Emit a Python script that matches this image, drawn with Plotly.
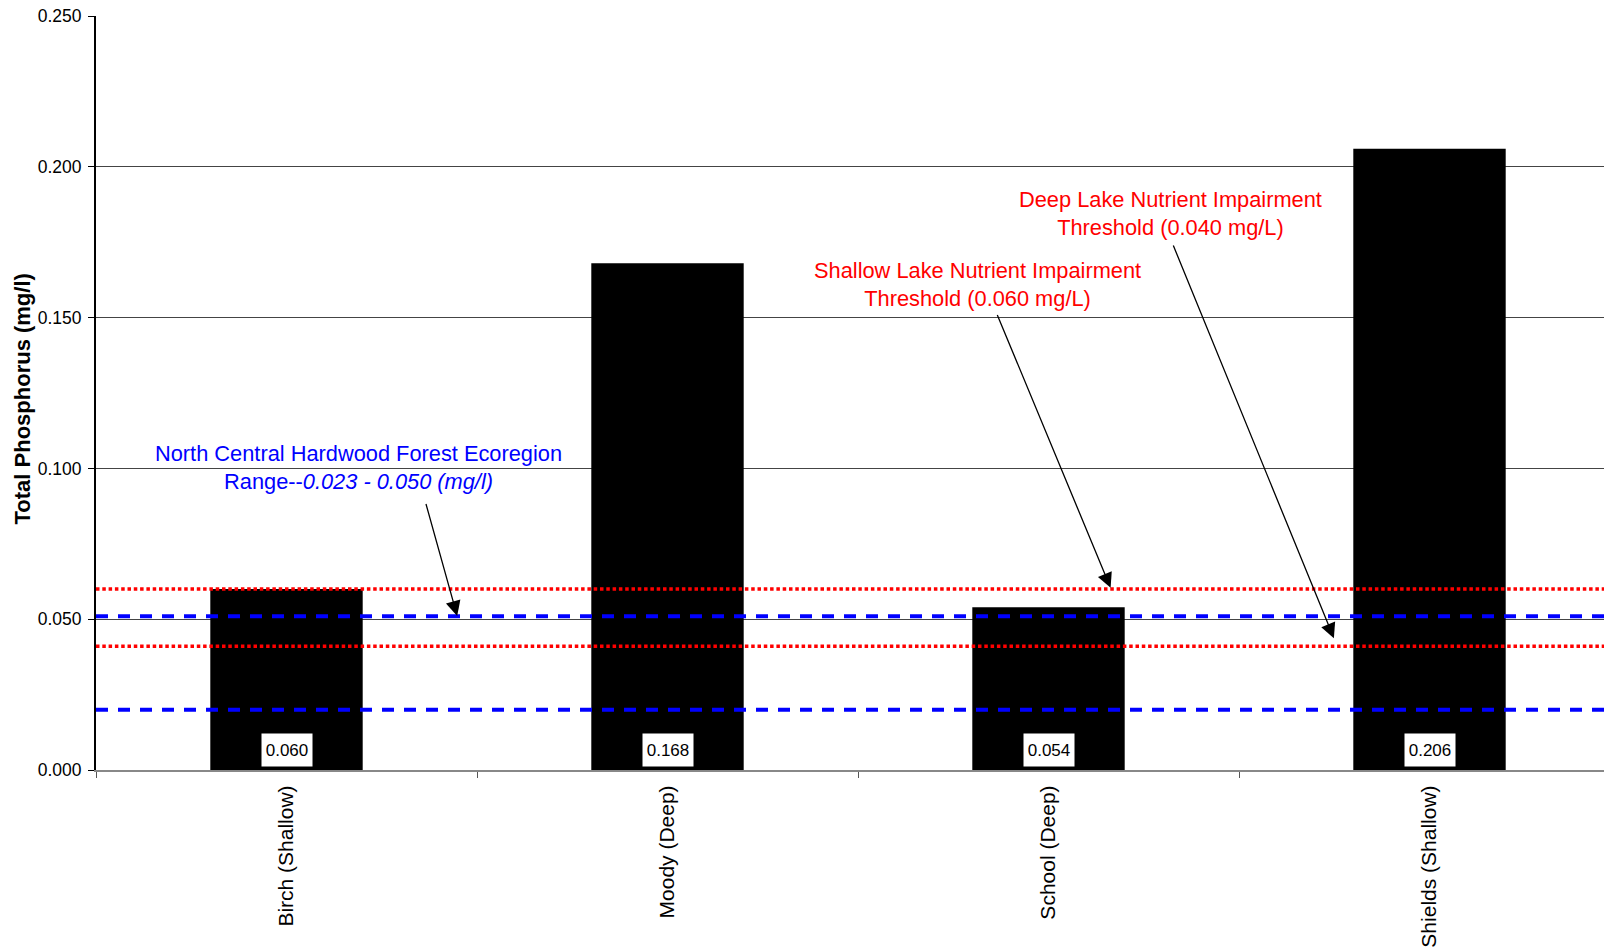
import plotly.graph_objects as go

# ---- data ----
lakes = ["Birch (Shallow)", "Moody (Deep)", "School (Deep)", "Shields (Shallow)"]
total_p = [0.060, 0.168, 0.054, 0.206]

eco_range = [0.020, 0.051]          # blue dashed lines (as drawn)
thresholds = [0.060, 0.041]          # red dotted lines (shallow, deep as drawn)

y_ticks = [0.0, 0.05, 0.10, 0.15, 0.20, 0.25]

FONT = "Arial, 'Liberation Sans', sans-serif"

fig = go.Figure()
fig.add_trace(go.Bar(
    x=lakes, y=total_p,
    marker=dict(color="black", line=dict(width=0)),
    width=0.4, showlegend=False, hoverinfo="x+y",
))

shapes = []
for v in eco_range:
    shapes.append(dict(type="line", xref="paper", x0=0, x1=1, yref="y", y0=v, y1=v,
                       line=dict(color="#0000FF", width=4, dash="12px,10px")))
for v in thresholds:
    shapes.append(dict(type="line", xref="paper", x0=0, x1=1, yref="y", y0=v, y1=v,
                       line=dict(color="#FF0000", width=3.5, dash="3.5px,2.8px")))

annotations = []
# value labels at bar bottoms
for i, v in enumerate(total_p):
    annotations.append(dict(
        x=i, y=0, xref="x", yref="y", text=f"{v:.3f}", showarrow=False,
        yanchor="bottom", yshift=3, bgcolor="white", width=48, height=30,
        font=dict(family=FONT, size=17, color="black"),
    ))

# y-axis title
annotations.append(dict(
    x=0, y=0.5, xref="paper", yref="paper", xanchor="center", yanchor="middle",
    xshift=-74.5, yshift=-6, textangle=-90, showarrow=False,
    text="<b>Total Phosphorus (mg/l)</b>", font=dict(family=FONT, size=22, color="black"),
))

# text annotations
annotations.append(dict(
    x=0.19, y=0.1003, xref="x", yref="y", showarrow=False,
    text="North Central Hardwood Forest Ecoregion<br>Range--<i>0.023 - 0.050 (mg/l)</i>",
    font=dict(family=FONT, size=21.8, color="#0000FF"), align="center",
))
annotations.append(dict(
    x=1.8136, y=0.1611, xref="x", yref="y", showarrow=False,
    text="Shallow Lake Nutrient Impairment<br>Threshold (0.060 mg/L)",
    font=dict(family=FONT, size=21.8, color="#FF0000"), align="center",
))
annotations.append(dict(
    x=2.3215, y=0.1846, xref="x", yref="y", showarrow=False,
    text="Deep Lake Nutrient Impairment<br>Threshold (0.040 mg/L)",
    font=dict(family=FONT, size=21.8, color="#FF0000"), align="center",
))

# arrows (head x,y ; tail ax,ay in data coords)
arrows = [
    (0.448, 0.0511, 0.365, 0.0887),
    (2.163, 0.0604, 1.864, 0.1514),
    (2.749, 0.0437, 2.326, 0.1744),
]
for x, y, ax, ay in arrows:
    annotations.append(dict(
        x=x, y=y, ax=ax, ay=ay, xref="x", yref="y", axref="x", ayref="y",
        text="", showarrow=True, arrowhead=2, arrowsize=2.3, arrowwidth=1.3,
        arrowcolor="black",
    ))

fig.update_layout(
    width=1604, height=948,
    margin=dict(l=96, r=0, t=16, b=178, pad=0),
    paper_bgcolor="white", plot_bgcolor="white",
    shapes=shapes, annotations=annotations,
    bargap=0.6,
    font=dict(family=FONT, color="black"),
)
fig.update_xaxes(
    type="category", range=[-0.5, 3.458],
    tickangle=-90, tickfont=dict(family=FONT, size=21, color="black"),
    showline=True, linecolor="#888888", linewidth=2,
    ticks="outside", tickson="boundaries", ticklen=6, tickcolor="#555555", tickwidth=1,
    ticklabelstandoff=5,
    showgrid=False, zeroline=False,
)
fig.update_yaxes(
    range=[0, 0.25], tickmode="array", tickvals=y_ticks,
    ticktext=[f"{t:.3f}" for t in y_ticks],
    tickfont=dict(family=FONT, size=17.5, color="black"),
    showline=True, linecolor="black", linewidth=2,
    ticks="outside", ticklen=6, tickcolor="black", tickwidth=1, ticklabelstandoff=3,
    showgrid=True, gridcolor="#444444", gridwidth=1, zeroline=False,
)

fig.write_html(
    "out.html",
    config={"displayModeBar": False},
    post_script="document.body.style.margin='0';document.body.style.overflow='hidden';",
)
